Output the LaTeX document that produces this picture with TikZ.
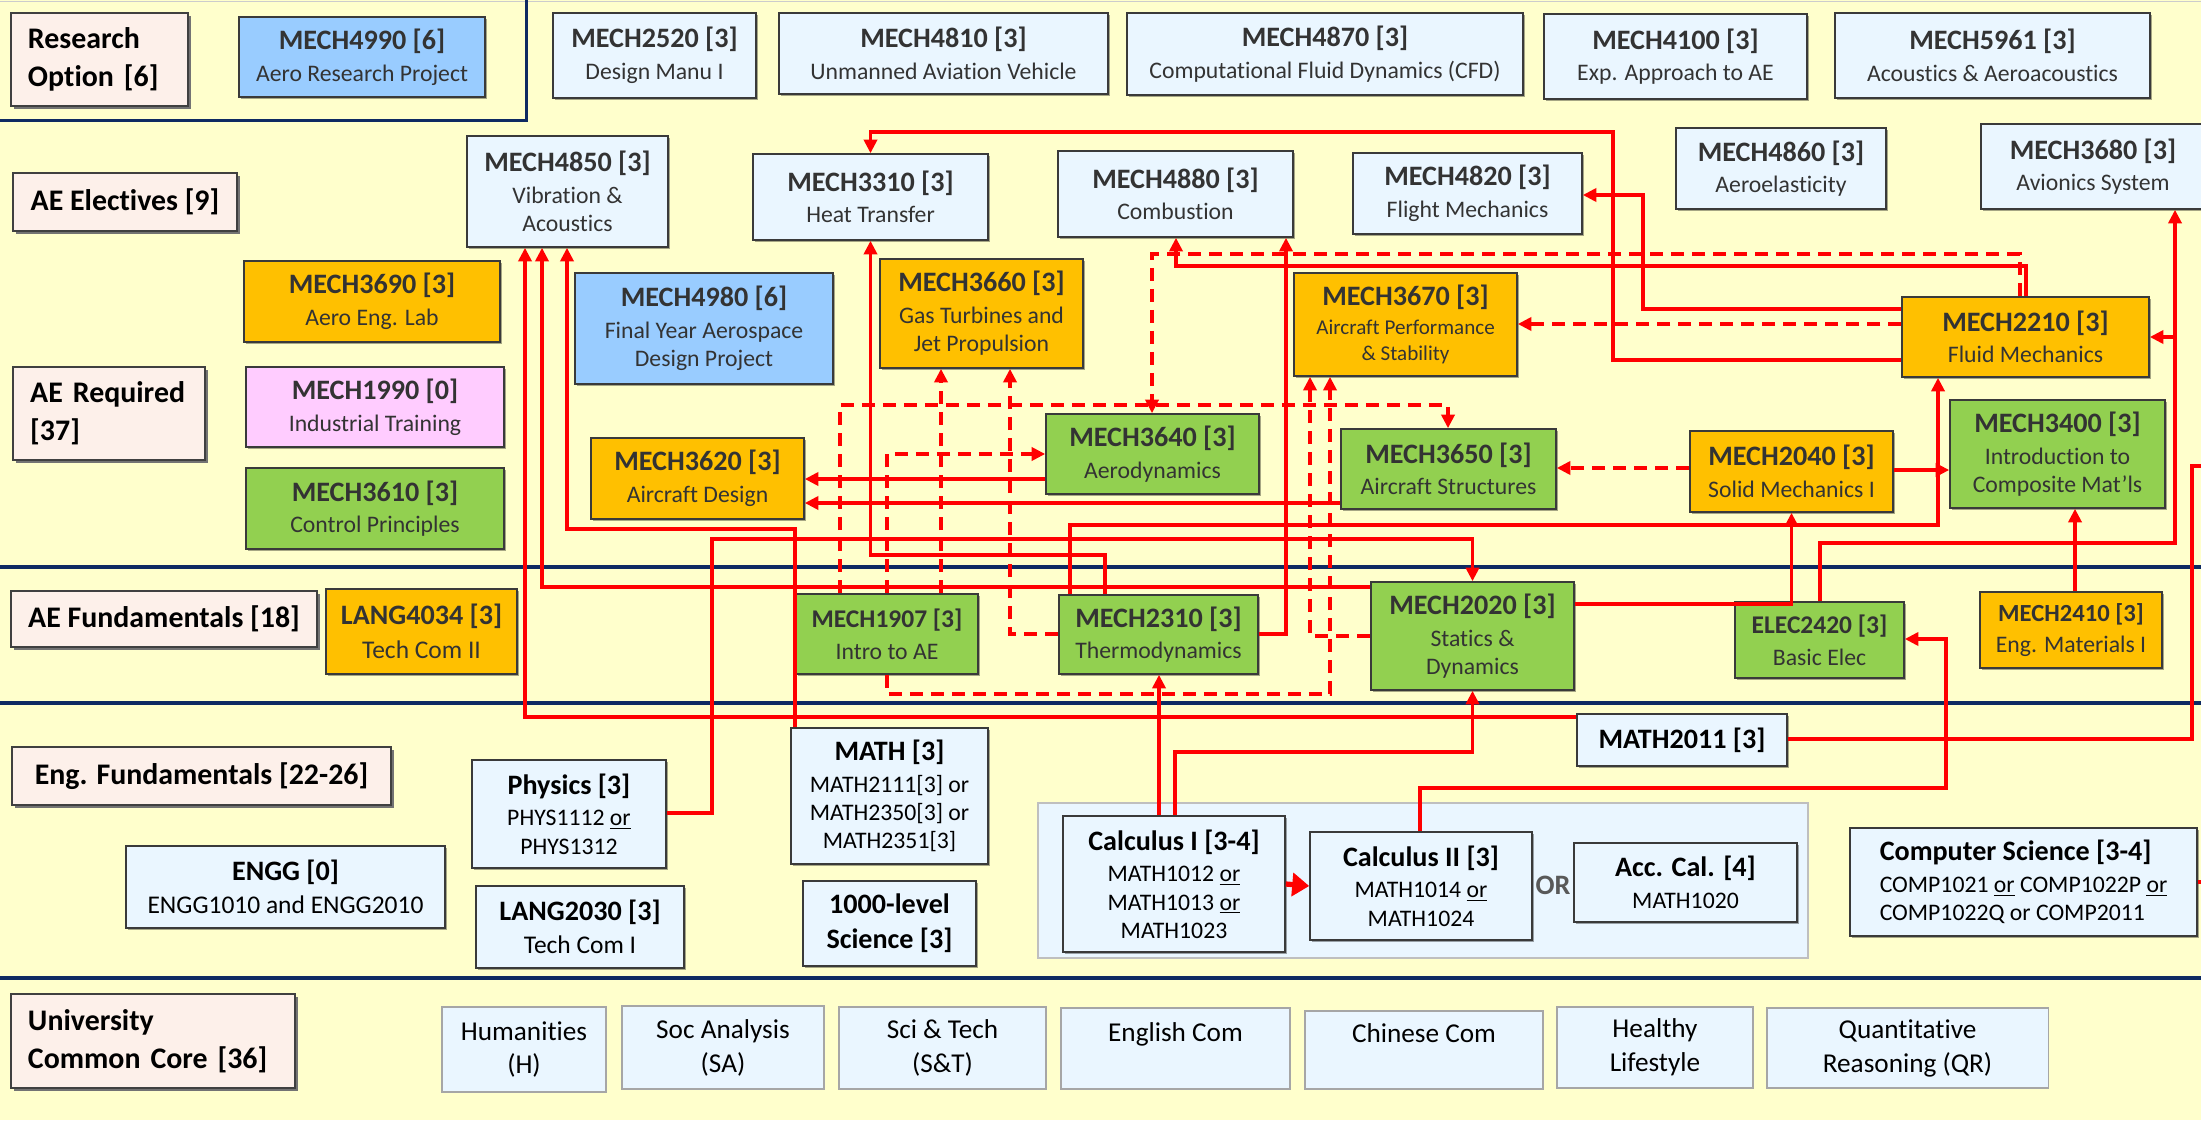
\documentclass[tikz,border=0pt]{standalone}
\usepackage{fontspec}
\setmainfont{Carlito}[Ligatures=NoCommon]
\usepackage{xcolor}
\usetikzlibrary{arrows.meta,shadows}

\definecolor{bgyellow}{HTML}{FFFFCC}
\definecolor{lblpink}{HTML}{FDF0EA}
\definecolor{paleblue}{HTML}{EAF6FF}
\definecolor{aeblue}{HTML}{99CCFF}
\definecolor{aeorange}{HTML}{FFC000}
\definecolor{aegreen}{HTML}{92D050}
\definecolor{aepink}{HTML}{FFCCFF}
\definecolor{navy}{HTML}{0E2A62}
\definecolor{prered}{HTML}{FF0000}
\definecolor{boxline}{HTML}{3A3A3A}

\newcommand\crstitle[2][16]{{\fontsize{#1}{#1}\selectfont\bfseries #2}}

\begin{document}
\begin{tikzpicture}[x=0.2mm,y=-0.2mm,
  sz/.style 2 args={minimum width=#1*0.2mm,minimum height=#2*0.2mm},
  lbl/.style={draw=black!75,line width=1.5pt,fill=lblpink,inner sep=0pt,
    font=\fontsize{17}{21.5}\selectfont\bfseries,
    drop shadow={shadow xshift=0.6mm,shadow yshift=-0.6mm,fill=black!55,opacity=1}},
  crs/.style={draw=boxline,line width=0.9pt,align=center,inner sep=0pt,text=black!80,
    font=\fontsize{13.5}{16}\selectfont,
    drop shadow={shadow xshift=0.35mm,shadow yshift=-0.35mm,fill=black,opacity=0.35}},
  ucc/.style={draw=black!35,line width=0.6pt,fill=paleblue,align=center,inner sep=0pt,
    font=\fontsize{15.5}{19.3}\selectfont},
  pre/.style={draw=prered,line width=2.1pt,-{Triangle[length=2.7mm,width=2.6mm]}},
  dpre/.style={pre,dash pattern=on 2.6mm off 1.6mm},
  con/.style={draw=prered,line width=2.1pt},
  bandline/.style={draw=navy,line width=0.8mm}]

\useasboundingbox (0,0) rectangle (2201,1120);
\fill[bgyellow] (0,0) rectangle (2201,1120);
\draw[black!20,line width=0.4pt] (0,1) -- (2201,1);

% bands
\draw[bandline] (0,567) -- (2201,567);
\draw[bandline] (0,703) -- (2201,703);
\draw[bandline] (0,978) -- (2201,978);
\draw[draw=navy,line width=0.6mm] (0,120) -- (526,120) -- (526,0);

% row labels
\node[lbl,sz={177}{93},text width=28.6mm,align=left] (lres) at (99.5,59.5) {Research\\Option [6]};
\node[lbl,sz={224}{58}] (lelec) at (125,202) {AE Electives [9]};
\node[lbl,sz={192}{93},text width=31.5mm,align=left] (lreq) at (109,413.5) {AE Required\\{}[37]};
\node[lbl,sz={306}{56}] (lfund) at (164,619) {AE Fundamentals [18]};
\node[lbl,sz={379}{58}] (leng) at (201.5,776) {Eng. Fundamentals [22-26]};
\node[lbl,sz={284}{94},text width=50mm,align=left] (lucc) at (153,1041) {University\\Common Core [36]};

% research option and electives
\node[crs,fill=aeblue,sz={246}{80}] (m4990) at (362,57) {\crstitle{MECH4990 [6]}\\[2pt]Aero Research Project};
\node[crs,fill=paleblue,sz={203}{85}] (m2520) at (654.5,55.5) {\crstitle{MECH2520 [3]}\\[2pt]Design Manu I};
\node[crs,fill=paleblue,sz={329}{81}] (m4810) at (943.5,53.5) {\crstitle{MECH4810 [3]}\\[2pt]Unmanned Aviation Vehicle};
\node[crs,fill=paleblue,sz={396}{82}] (m4870) at (1325,54) {\crstitle{MECH4870 [3]}\\[2pt]Computational Fluid Dynamics (CFD)};
\node[crs,fill=paleblue,sz={263}{85}] (m4100) at (1675.5,56.5) {\crstitle{MECH4100 [3]}\\[2pt]Exp. Approach to AE};
\node[crs,fill=paleblue,sz={315}{85}] (m5961) at (1992.5,55.5) {\crstitle{MECH5961 [3]}\\[2pt]Acoustics \& Aeroacoustics};

\node[crs,fill=paleblue,sz={201}{111}] (m4850) at (567.5,191.5) {\crstitle{MECH4850 [3]}\\[2pt]Vibration \&\\Acoustics};
\node[crs,fill=paleblue,sz={235}{86}] (m3310) at (870.5,197) {\crstitle{MECH3310 [3]}\\[2pt]Heat Transfer};
\node[crs,fill=paleblue,sz={235}{86}] (m4880) at (1175.5,194) {\crstitle{MECH4880 [3]}\\[2pt]Combustion};
\node[crs,fill=paleblue,sz={229}{81}] (m4820) at (1467.5,193.5) {\crstitle{MECH4820 [3]}\\[2pt]Flight Mechanics};
\node[crs,fill=paleblue,sz={210}{81}] (m4860) at (1781,168.5) {\crstitle{MECH4860 [3]}\\[2pt]Aeroelasticity};
\node[crs,fill=paleblue,sz={224}{85}] (m3680) at (2093,166.5) {\crstitle{MECH3680 [3]}\\[2pt]Avionics System};

% AE required
\node[crs,fill=aeorange,sz={256}{81}] (m3690) at (372,301.5) {\crstitle{MECH3690 [3]}\\[2pt]Aero Eng. Lab};
\node[crs,fill=aepink,sz={258}{80}] (m1990) at (375,407) {\crstitle{MECH1990 [0]}\\[2pt]Industrial Training};
\node[crs,fill=aegreen,sz={258}{81}] (m3610) at (375,508.5) {\crstitle{MECH3610 [3]}\\[2pt]Control Principles};
\node[crs,fill=aeblue,sz={258}{111}] (m4980) at (704,328.5) {\crstitle{MECH4980 [6]}\\[2pt]Final Year Aerospace\\Design Project};
\node[crs,fill=aeorange,sz={203}{109}] (m3660) at (981.5,313.5) {\crstitle{MECH3660 [3]}\\[2pt]Gas Turbines and\\Jet Propulsion};
\node[crs,fill=aeorange,sz={213}{81}] (m3620) at (697.5,478.5) {\crstitle{MECH3620 [3]}\\[2pt]Aircraft Design};
\node[crs,fill=aegreen,sz={213}{80}] (m3640) at (1152.5,454) {\crstitle{MECH3640 [3]}\\[2pt]Aerodynamics};
\node[crs,fill=aeorange,sz={223}{103},font=\fontsize{12}{14.5}\selectfont] (m3670) at (1405.5,324.5) {\crstitle{MECH3670 [3]}\\[2pt]Aircraft Performance\\\& Stability};
\node[crs,fill=aegreen,sz={215}{80}] (m3650) at (1448.5,469) {\crstitle{MECH3650 [3]}\\[2pt]Aircraft Structures};
\node[crs,fill=aeorange,sz={247}{80}] (m2210) at (2025.5,337) {\crstitle{MECH2210 [3]}\\[2pt]Fluid Mechanics};
\node[crs,fill=aeorange,sz={203}{81}] (m2040) at (1791.5,471.5) {\crstitle{MECH2040 [3]}\\[2pt]Solid Mechanics I};
\node[crs,fill=aegreen,sz={215}{108}] (m3400) at (2057.5,454) {\crstitle{MECH3400 [3]}\\[2pt]Introduction to\\Composite Mat’ls};

% AE fundamentals
\node[crs,fill=aeorange,sz={191}{85},font=\fontsize{14.5}{17}\selectfont] (l4034) at (421.5,631.5) {\crstitle{LANG4034 [3]}\\[2pt]Tech Com II};
\node[crs,fill=aegreen,sz={182}{80}] (m1907) at (887,634) {\crstitle[14.5]{MECH1907 [3]}\\[2pt]Intro to AE};
\node[crs,fill=aegreen,sz={199}{79}] (m2310) at (1158.5,634.5) {\crstitle{MECH2310 [3]}\\[2pt]Thermodynamics};
\node[crs,fill=aegreen,sz={203}{108}] (m2020) at (1472.5,636) {\crstitle{MECH2020 [3]}\\[2pt]Statics \&\\Dynamics};
\node[crs,fill=aegreen,sz={169}{76}] (e2420) at (1819.5,640) {\crstitle[14.5]{ELEC2420 [3]}\\[2pt]Basic Elec};
\node[crs,fill=aeorange,sz={182}{76}] (m2410) at (2071,630) {\crstitle[14]{MECH2410 [3]}\\[2pt]Eng. Materials I};

% eng fundamentals
\node[crs,fill=paleblue,text=black,sz={194}{108}] (phys) at (569,814) {\crstitle{Physics [3]}\\[2pt]PHYS1112 \underline{or}\\PHYS1312};
\node[crs,fill=paleblue,text=black,sz={197}{136}] (math) at (889.5,796) {\crstitle{MATH [3]}\\[2pt]MATH2111[3] or\\MATH2350[3] or\\MATH2351[3]};
\node[crs,fill=paleblue,text=black,sz={319}{82},font=\fontsize{14.5}{17}\selectfont] (engg) at (285.5,887) {\crstitle{ENGG [0]}\\[2pt]ENGG1010 and ENGG2010};
\node[crs,fill=paleblue,text=black,sz={208}{82},font=\fontsize{14.5}{17}\selectfont] (l2030) at (580,927) {\crstitle{LANG2030 [3]}\\[2pt]Tech Com I};
\node[crs,fill=paleblue,text=black,sz={173}{85}] (sci) at (889.5,923.5) {\crstitle{1000-level}\\[4pt]\crstitle{Science [3]}};
\node[draw=black!25,line width=0.6pt,fill=paleblue,sz={770}{155}] (calcgrp) at (1423,880.5) {};
\node[crs,fill=paleblue,text=black,sz={222}{136}] (calc1) at (1174,884) {\crstitle{Calculus I [3-4]}\\[2pt]MATH1012 \underline{or}\\MATH1013 \underline{or}\\MATH1023};
\node[crs,fill=paleblue,text=black,sz={222}{108}] (calc2) at (1421,886) {\crstitle{Calculus II [3]}\\[2pt]MATH1014 \underline{or}\\MATH1024};
\node[crs,fill=paleblue,text=black,sz={223}{79}] (acc) at (1685.5,882.5) {\crstitle{Acc. Cal. [4]}\\[2pt]MATH1020};
\node[font=\fontsize{16}{16}\selectfont\bfseries,text=black!65] (orlbl) at (1553,885) {OR};
\node[crs,fill=paleblue,text=black,sz={210}{52}] (m2011) at (1682,740) {\crstitle{MATH2011 [3]}};
\node[crs,fill=paleblue,text=black,sz={347}{108},align=left] (comp) at (2023.5,882) {\crstitle{Computer Science [3-4]}\\[2pt]COMP1021 \underline{or} COMP1022P \underline{or}\\COMP1022Q or COMP2011};

% common core
\node[ucc,sz={164}{85}] (hum) at (524,1049.5) {Humanities\\(H)};
\node[ucc,sz={202}{83}] (soc) at (723,1047.5) {Soc Analysis\\(SA)};
\node[ucc,sz={207}{82}] (scit) at (942.5,1048) {Sci \& Tech\\(S\&T)};
\node[ucc,sz={229}{81}] (engc) at (1175.5,1048.5) {English Com\\\mbox{}};
\node[ucc,sz={238}{78}] (chic) at (1424,1050) {Chinese Com\\\mbox{}};
\node[ucc,sz={196}{81}] (hls) at (1655,1047.5) {Healthy\\Lifestyle};
\node[ucc,sz={281}{80}] (qr) at (1907.5,1048) {Quantitative\\Reasoning (QR)};

% prerequisites
\draw[pre] (2026,0 |- m2210.north) |- (1176,266) -- (1176,0 |- m4880.south);
\draw[dpre] (2020,0 |- m2210.north) |- (1152,254) -- (1152,0 |- m3640.north);
\draw[pre] (m2210.west |- 0,309) -| (1643,195) -- (m4820.east |- 0,195);
\draw[dpre] (m2210.west |- 0,324) -- (m3670.east |- 0,324);
\draw[pre] (m2210.west |- 0,360) -| (1613,132) -| (m3310.north);
\draw[pre] (1105,0 |- m2310.north) |- (m3310.south |- 0,555) -- (m3310.south);
\draw[pre] (m2310.east |- 0,634) -| (1286,0 |- m4880.south);
\draw[pre] (1070,0 |- m2310.north) |- (1938,525) -- (1938,0 |- m2210.south);
\draw[pre] (1159,0 |- calc1.north) -- (1159,0 |- m2310.south);
\draw[pre] (1175,0 |- calc1.north) |- (m2020.south |- 0,752) -- (m2020.south);
\draw[pre] (1420,0 |- calc2.north) |- (1946,788) |- (e2420.east |- 0,639);
\draw[pre] (m2020.east |- 0,604) -| (m2040.south);
\draw[pre] (m2040.east |- 0,470) -- (m3400.west |- 0,470);
\draw[pre] (2075,0 |- m2410.north) -- (2075,0 |- m3400.south);
\draw[dpre] (m2040.west |- 0,468) -- (m3650.east |- 0,468);
\draw[pre] (m3640.west |- 0,479) -- (m3620.east |- 0,479);
\draw[pre] (m3650.west |- 0,503) -- (m3620.east |- 0,503);
\draw[pre] (phys.east |- 0,813) -| (712,539) -| (m2020.north);
\draw[pre] (795,0 |- math.north) |- (567,529) -- (567,0 |- m4850.south);
\draw[pre] (m2020.west |- 0,587) -| (542,0 |- m4850.south);
\draw[pre] (m2011.west |- 0,717) -| (525,0 |- m4850.south);
\draw[pre] (1820,0 |- e2420.north) |- (2175,543) -- (2175,0 |- m3680.south);
\coordinate (j1) at (2175,337);
\draw[pre] (j1) -- (m2210.east |- j1);
\coordinate (offr) at (2212,466);
\coordinate (offc) at (2212,882);
\draw[con] (m2011.east |- 0,739) -| (2192,466) -- (offr);
\draw[con] (comp.east) -- (offc);
\draw[pre,line width=3pt,-{Triangle[length=3.4mm,width=4.6mm]}] (calc1.east) -- (calc2.west);

% dashed co-requisites
\draw[dpre] (840,0 |- m1907.north) |- (1448,405) -- (1448,0 |- m3650.north);
\draw[dpre] (887,0 |- m1907.north) |- (m3640.west |- 0,454);
\draw[dpre] (941,0 |- m1907.north) -- (941,0 |- m3660.south);
\draw[dpre] (m2310.west |- 0,634) -| (1010,0 |- m3660.south);
\draw[dpre] (m2020.west |- 0,636) -| (1310,0 |- m3670.south);
\draw[dpre] (887,0 |- m1907.south) |- (1330,694) -- (1330,0 |- m3670.south);
\end{tikzpicture}
\end{document}
